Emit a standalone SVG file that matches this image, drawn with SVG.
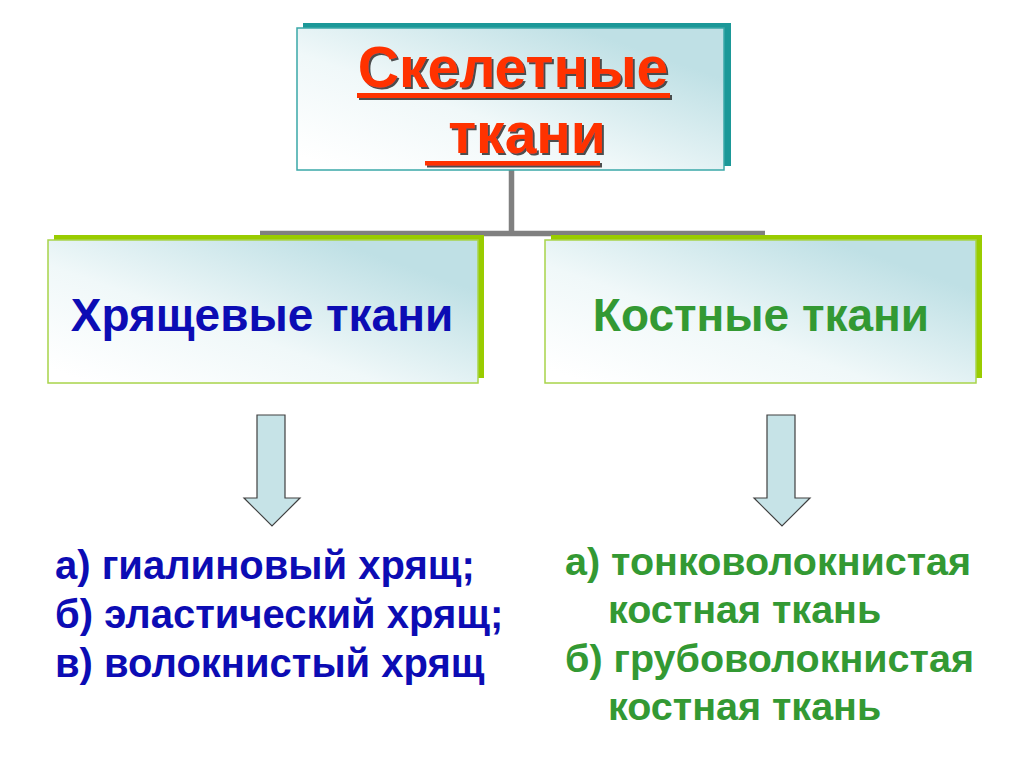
<svg xmlns="http://www.w3.org/2000/svg" width="1024" height="767" viewBox="0 0 1024 767">
<defs>
<linearGradient id="boxfill" x1="0.05" y1="0.95" x2="0.85" y2="0.2">
<stop offset="0" stop-color="#ffffff"/>
<stop offset="0.45" stop-color="#f0f8f9"/>
<stop offset="1" stop-color="#bfe0e5"/>
</linearGradient>
<filter id="tshadow" x="-5%" y="-20%" width="110%" height="140%">
<feDropShadow dx="2" dy="2" stdDeviation="0.6" flood-color="#3a3a3a" flood-opacity="0.9"/>
</filter>
<style>
.box{fill:url(#boxfill);stroke-width:1.5}
.topbox{stroke:#3aa8a8}
.subbox{stroke:#a8d44a}
.tshad{fill:#1b9898}
.gshad{fill:#99cc00}
.title{font-family:"Liberation Sans",Arial,sans-serif;font-weight:bold;font-size:57px;fill:#ff3300}
.ul{fill:#ff3300}
.bl{font-family:"Liberation Sans",Arial,sans-serif;font-weight:bold;font-size:40px;fill:#0c0cb4}
.gr{font-family:"Liberation Sans",Arial,sans-serif;font-weight:bold;font-size:39.5px;fill:#339933}
.big{font-size:46px}
.arrow{fill:#c6e3e7;stroke:#404040;stroke-width:1.2}
.conn{stroke:#808080;stroke-width:5.5;fill:none}
</style>
</defs>
<rect width="1024" height="767" fill="#ffffff"/>
<g id="connectors">
<path class="conn" d="M511.5 168 V233.5 M260 233.5 H765"/>
</g>
<g id="node-skeletal">
<rect class="tshad" x="303" y="23" width="428" height="143"/>
<rect class="box topbox" x="297" y="28" width="427" height="142"/>
<g filter="url(#tshadow)">
<text class="title" x="513" y="87" text-anchor="middle">Скелетные</text>
<rect class="ul" x="357" y="93" width="313" height="5"/>
<text class="title" x="527" y="153" text-anchor="middle">ткани</text>
<rect class="ul" x="425" y="161" width="175" height="4.5"/>
</g>
</g>
<g id="node-cartilage">
<rect class="gshad" x="54" y="235" width="430" height="143"/>
<rect class="box subbox" x="48" y="240" width="430" height="143"/>
<text class="bl big" x="262" y="331" text-anchor="middle">Хрящевые ткани</text>
</g>
<g id="node-bone">
<rect class="gshad" x="551" y="235" width="431" height="143"/>
<rect class="box subbox" x="545" y="240" width="431" height="143"/>
<text class="gr big" x="761" y="331" text-anchor="middle">Костные ткани</text>
</g>
<g id="arrow-left">
<polygon class="arrow" points="257,415 285,415 285,498 300,498 272,526 244,498 257,498"/>
</g>
<g id="arrow-right">
<polygon class="arrow" points="767,415 795,415 795,498 810,498 782,526 754,498 767,498"/>
</g>
<g id="list-cartilage">
<text class="bl" x="55" y="579">а) гиалиновый хрящ;</text>
<text class="bl" x="55" y="628">б) эластический хрящ;</text>
<text class="bl" x="55" y="677">в) волокнистый хрящ</text>
</g>
<g id="list-bone">
<text class="gr" x="565" y="575">а) тонковолокнистая</text>
<text class="gr" x="608" y="623">костная ткань</text>
<text class="gr" x="565" y="672">б) грубоволокнистая</text>
<text class="gr" x="608" y="720">костная ткань</text>
</g>
</svg>
